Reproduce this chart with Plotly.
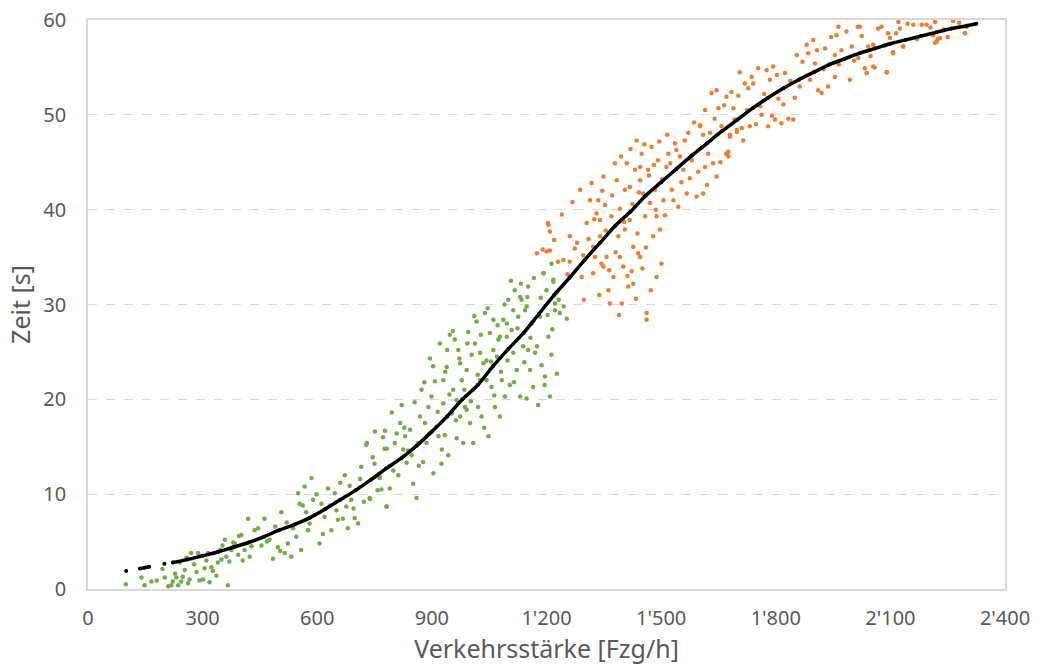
import plotly.graph_objects as go

# ---------------- data ----------------
x_ticks = [0, 300, 600, 900, 1200, 1500, 1800, 2100, 2400]
x_tick_labels = ["0", "300", "600", "900", "1'200", "1'500", "1'800", "2'100", "2'400"]
y_ticks = [0, 10, 20, 30, 40, 50, 60]

green_x = [99, 140, 148, 166, 201, 218, 222, 231, 236, 244, 253, 262, 270, 284, 288, 301, 305, 314,
           318, 323, 336, 345, 349, 358, 362, 366, 375, 384, 393, 401, 410, 419, 423, 436, 454, 462,
           475, 484, 497, 506, 515, 523, 532, 537, 550, 554, 558, 567, 571, 576, 585, 589, 593, 606,
           611, 619, 628, 637, 646, 650, 654, 672, 676, 680, 689, 698, 707, 715, 728, 737, 750, 763,
           768, 781, 776,
           738, 782, 730, 751, 777, 782, 799, 808, 817, 821, 825, 834, 843, 851, 860, 869, 873, 877,
           886, 895, 899, 904, 908, 912, 921, 926, 930, 934, 939, 943, 947, 952, 956, 960, 965, 969,
           974, 978, 982, 987, 991, 995, 1000, 1004, 1008, 1013, 1017, 1021, 1026, 1030, 1035, 1039,
           1043, 1048, 1052, 1056, 1061, 1065, 1070, 1074, 1078, 1083, 1087, 1091, 1096, 1100, 1104,
           1109, 1113, 1117, 1122, 1126, 1131, 1135, 1139, 1144, 1148, 1152, 1157, 1161, 1165, 1170,
           1178, 1183, 1187, 1192, 1196, 1200, 1205, 1209, 1213, 1218, 1222, 1227,
           764, 790, 803, 830, 847, 864, 882, 891, 917, 930, 940, 965, 974, 991, 1008, 1026, 1043,
           1061, 1078, 1096, 1113, 1131, 1148, 1152,
           1192, 1213, 1218, 1227, 1235, 1253, 1222]
green_y = [0.5, 1.2, 0.4, 0.8, 1.2, 0.4, 0.8, 1.2, 0.4, 0.8, 2.0, 0.6, 3.8, 1.8, 3.8, 1.0, 2.2, 3.8,
           0.7, 2.3, 1.4, 4.1, 3.1, 5.2, 3.4, 0.4, 4.1, 4.8, 3.6, 5.7, 4.1, 7.4, 3.4, 6.2, 4.6, 7.4,
           5.2, 3.2, 4.4, 8.1, 3.8, 4.8, 3.4, 6.4, 10.1, 9.0, 4.1, 10.8, 8.1, 6.2, 11.7, 9.4, 7.8, 4.8,
           9.0, 7.6, 10.6, 6.2, 10.1, 8.3, 7.3, 12.0, 8.7, 6.4, 9.4, 7.5, 6.9, 12.9, 15.2, 9.6, 13.2, 11.7,
           10.5, 8.7, 14.8,
           9.5, 8.7, 15.4, 16.6, 16.7, 14.8, 12.5, 16.4, 17.5, 19.4, 14.7, 13.3, 16.8, 11.1, 9.6, 18.2, 21.0, 13.4,
           15.4, 24.3, 20.3, 12.2, 21.9, 17.1, 25.9, 14.7, 19.6, 16.2, 23.4, 14.1, 26.8, 18.5, 21.0, 26.3, 15.9, 25.2,
           18.2, 22.0, 15.4, 19.2, 23.1, 27.1, 17.5, 24.7, 15.4, 25.9, 28.2, 19.2, 24.9, 18.2, 23.8, 29.1,
           22.0, 16.1, 27.0, 21.3, 28.4, 19.2, 24.5, 26.3, 18.2, 22.0, 28.4, 20.3, 26.6, 30.5, 21.5,
           27.3, 24.9, 31.5, 23.1, 28.7, 20.3, 30.5, 25.6, 29.4, 20.1, 31.9, 23.1, 28.0, 21.3, 24.9,
           19.4, 28.7, 23.6, 33.3, 22.4, 31.5, 26.6, 20.3, 24.7, 32.6, 30.1, 22.7,
           11.8, 10.6, 15.4, 16.1, 14.1, 15.4, 17.5, 19.2, 16.1, 22.0, 25.2, 19.9, 23.8, 18.9, 21.0, 22.0, 24.1,
           25.2, 26.6, 28.0, 29.4, 30.8, 29.8, 25.2,
           33.3, 34.3, 32.4, 31.3, 29.1, 28.5, 29.4]

# further green dots read from the denser parts of the cloud, as (x, y) pairs
green_more = [(180, 0.9), (195, 2.1), (210, 0.3), (228, 1.6), (240, 2.8), (248, 1.3), (258, 3.3),
              (266, 1.0), (278, 2.6), (292, 0.9), (310, 3.0), (327, 1.9), (340, 2.8), (352, 4.6),
              (370, 2.9), (380, 4.9), (395, 5.6), (405, 3.0), (428, 4.5), (445, 6.4), (468, 5.0),
              (490, 6.6), (503, 4.0), (520, 7.0), (545, 5.5), (562, 8.8), (580, 6.9), (598, 10.0),
              (615, 5.8), (633, 8.8), (660, 11.2), (667, 7.4), (685, 10.9), (695, 8.5), (712, 11.6),
              (722, 9.2), (745, 13.9), (758, 10.4), (772, 16.0), (790, 13.0), (795, 18.6), (812, 12.0),
              (828, 17.0), (838, 14.6), (855, 19.7), (866, 13.0), (880, 21.8), (893, 16.4), (903, 23.5),
              (915, 18.7), (925, 13.2), (935, 22.9), (946, 20.5), (955, 27.2), (963, 17.8), (972, 24.3),
              (985, 21.0), (993, 25.9), (1002, 19.8), (1011, 28.8), (1020, 22.6), (1028, 26.8),
              (1037, 17.0), (1046, 29.6), (1055, 24.0), (1063, 20.4), (1072, 27.8), (1081, 22.9),
              (1090, 30.0), (1098, 24.1), (1107, 32.5), (1115, 21.8), (1124, 27.5), (1133, 32.2),
              (1142, 23.9), (1150, 30.8), (1158, 26.5), (1167, 32.8), (1175, 25.6), (1185, 30.7),
              (1195, 21.5), (1203, 28.9), (1215, 27.4), (1232, 30.5), (1245, 29.8)]

orange_x = [1175, 1190, 1204, 1230,
            1200, 1209, 1205, 1209, 1244, 1261, 1261, 1274, 1288, 1292, 1296, 1305, 1314, 1318, 1322,
            1327, 1331, 1335, 1340, 1344, 1349, 1353, 1357, 1362, 1366, 1370, 1375, 1379, 1384, 1388,
            1392, 1397, 1401, 1405, 1410, 1414, 1418, 1423, 1427, 1432, 1436, 1440, 1445, 1449, 1453,
            1458, 1462, 1462, 1466, 1471, 1475, 1479, 1484, 1488, 1492, 1497, 1501, 1506, 1514, 1519,
            1528, 1536, 1545, 1549, 1558, 1567, 1571, 1580, 1593, 1602, 1610, 1615, 1628, 1636, 1645,
            1658, 1671, 1680, 1698,
            1418, 1445, 1340, 1392, 1427, 1488, 1349, 1322, 1405, 1445,
            1602, 1610, 1615, 1623, 1632, 1645, 1650, 1671, 1676, 1680, 1684, 1689, 1698, 1706, 1711,
            1719, 1728, 1732, 1741, 1754, 1759, 1763, 1776, 1780, 1785, 1793, 1798, 1807, 1815, 1824,
            1833, 1846, 1855, 1863, 1881, 1885, 1898, 1903, 1911, 1920, 1929, 1937, 1955, 1955, 1959,
            1964, 1972, 1994, 1999, 2016, 2020, 2033, 2038, 2042, 2055, 2055, 2077, 2090, 2094, 2099,
            2107, 2121, 2125, 2134, 2160, 2182, 2195, 2212, 2217, 2221, 2230, 2295, 2300,
            2217, 2224, 2091, 2038, 2059, 2107, 2133, 2295, 2015, 2264, 1671, 1676]
orange_y = [35.4, 35.8, 38.6, 34.5,
            35.6, 35.7, 38.4, 37.7, 34.7, 34.5, 37.2, 35.9, 42.1, 32.9, 35.2, 38.6, 41.0, 42.8, 33.3,
            35.0, 39.6, 41.0, 37.2, 34.3, 43.5, 40.5, 35.0, 31.5, 30.1, 39.3, 32.9, 44.9, 43.1, 37.2,
            40.1, 30.1, 34.0, 42.1, 44.9, 31.9, 38.9, 33.5, 36.1, 44.2, 47.3, 35.4, 43.1, 45.9, 41.7,
            39.3, 29.1, 28.4, 44.2, 40.7, 46.6, 37.2, 42.1, 39.3, 45.2, 37.9, 34.3, 41.0, 44.5, 45.9,
            42.1, 47.0, 40.3, 45.6, 44.2, 41.7, 48.1, 45.2, 41.4, 48.9, 41.7, 44.5, 48.1, 44.9, 43.5,
            48.8, 45.9, 47.7, 48.4,
            42.4, 44.5, 38.9, 35.0, 32.2, 32.9, 34.0, 36.1, 37.9, 35.0,
            48.8, 47.9, 50.5, 45.9, 52.3, 52.6, 50.7, 51.9, 46.1, 47.9, 52.4, 50.7, 48.2, 54.5, 48.6,
            53.3, 52.8, 48.8, 53.3, 54.9, 50.9, 50.0, 54.7, 48.8, 53.7, 55.1, 49.5, 51.7, 49.1, 54.4,
            49.6, 49.5, 56.3, 53.0, 57.4, 56.5, 57.9, 55.4, 52.6, 52.3, 57.0, 53.0, 56.3, 54.0, 58.4,
            59.3, 56.8, 53.7, 57.2, 56.0, 59.3, 54.9, 54.4, 57.2, 55.1, 57.4, 59.3, 54.5, 58.6, 58.1,
            56.5, 59.8, 59.1, 57.2, 59.5, 59.5, 59.5, 58.4, 59.8, 57.7, 58.1, 58.6, 59.3,
            57.6, 58.0, 54.5, 54.4, 55.0, 56.6, 57.2, 58.6, 59.3, 59.9, 45.9, 45.6]

# further orange dots, as (x, y) pairs
orange_more = [(1220, 36.8), (1240, 39.5), (1255, 33.2), (1268, 40.8), (1280, 36.5), (1298, 30.5),
               (1310, 36.9), (1325, 39.0), (1338, 31.0), (1346, 42.0), (1355, 37.8), (1364, 33.6),
               (1372, 41.5), (1381, 35.5), (1390, 28.9), (1395, 45.6), (1403, 38.7), (1412, 33.0),
               (1420, 46.4), (1425, 40.6), (1434, 30.6), (1438, 37.5), (1442, 41.8), (1451, 33.8),
               (1456, 46.9), (1460, 36.0), (1468, 43.6), (1473, 31.5), (1481, 44.7), (1486, 40.0),
               (1495, 47.2), (1503, 43.2), (1510, 39.4), (1516, 47.9), (1524, 44.9), (1532, 41.0),
               (1540, 46.3), (1553, 42.9), (1562, 47.3), (1575, 43.3), (1586, 49.2), (1597, 44.0),
               (1606, 46.5), (1620, 42.6), (1640, 49.6), (1655, 45.0), (1665, 51.0), (1692, 49.5),
               (1702, 52.0), (1715, 47.3), (1725, 50.5), (1737, 54.0), (1748, 49.0), (1770, 52.2),
               (1790, 49.9), (1803, 54.2), (1820, 51.1), (1838, 53.6), (1850, 51.8), (1870, 55.6),
               (1890, 53.7), (1908, 56.8), (1925, 54.8), (1945, 58.2), (1965, 55.3), (1985, 58.8),
               (2005, 55.7), (2025, 58.3), (2048, 56.2), (2068, 59.1), (2085, 57.3), (2115, 58.6),
               (2145, 59.6), (2170, 58.0), (2205, 59.2), (2240, 59.0), (2250, 58.2), (2280, 59.7)]

# fitted curve (black dots); None marks the small gaps seen at the low end
curve_x = [100, None, 136, 148, 160, None, 200, None, 222, 260, 300, 340, 380, 420, 460, 500, 540,
           580, 620, 660, 700, 740, 780, 820, 860, 900, 940, 980, 1020, 1060, 1100, 1140, 1180, 1220,
           1260, 1300, 1340, 1380, 1420, 1460, 1500, 1540, 1580, 1620, 1660, 1700, 1740, 1780, 1820,
           1860, 1900, 1940, 1980, 2020, 2060, 2100, 2140, 2180, 2220, 2260, 2300, 2325]
curve_y = [1.9, None, 2.15, 2.25, 2.35, None, 2.65, None, 2.8, 3.1, 3.5, 3.9, 4.4, 4.9, 5.5, 6.2, 6.8,
           7.5, 8.4, 9.4, 10.4, 11.5, 12.7, 13.8, 15.1, 16.6, 18.2, 20.0, 21.5, 23.5, 25.3, 27.0, 29.0, 31.0,
           32.8, 34.7, 36.5, 38.3, 39.8, 41.5, 42.9, 44.3, 45.7, 47.0, 48.3, 49.5, 50.7, 51.8, 52.8,
           53.7, 54.5, 55.3, 55.9, 56.5, 57.0, 57.5, 57.9, 58.3, 58.7, 59.1, 59.4, 59.6]

# ---------------- figure ----------------
GREEN = "#70AD47"
ORANGE = "#ED7D31"
GRID = "#D9D9D9"
TEXT = "#595959"
FONT = "Noto Sans"

gx = green_x + [p[0] for p in green_more]
gy = green_y + [p[1] for p in green_more]
ox = orange_x + [p[0] for p in orange_more]
oy = orange_y + [p[1] for p in orange_more]

fig = go.Figure()
fig.add_trace(go.Scatter(x=gx, y=gy, mode="markers",
                         marker=dict(color=GREEN, size=4.5), showlegend=False))
fig.add_trace(go.Scatter(x=ox, y=oy, mode="markers",
                         marker=dict(color=ORANGE, size=4.5), showlegend=False))
fig.add_trace(go.Scatter(x=curve_x, y=curve_y, mode="lines+markers", connectgaps=False,
                         line=dict(color="black", width=3.5, shape="spline"),
                         marker=dict(color="black", size=4), showlegend=False))

fig.update_layout(
    width=1040, height=670,
    margin=dict(l=88, r=35, t=20, b=81),
    paper_bgcolor="white", plot_bgcolor="white",
    font=dict(family=FONT, color=TEXT),
)
fig.update_xaxes(
    range=[0, 2400], tickvals=x_ticks, ticktext=x_tick_labels,
    showgrid=False, zeroline=False, automargin=False,
    showline=True, linecolor=GRID, linewidth=1.5, mirror=True,
    ticks="", ticklabelstandoff=10,
    tickfont=dict(size=20, color=TEXT, family=FONT),
    title=dict(text="Verkehrsstärke [Fzg/h]", font=dict(size=25, color=TEXT, family=FONT), standoff=10),
)
fig.update_yaxes(
    range=[0, 60], tickvals=y_ticks,
    showgrid=True, gridcolor=GRID, griddash="dash", gridwidth=1,
    zeroline=False, automargin=False,
    showline=True, linecolor=GRID, linewidth=1.5, mirror=True,
    ticks="", ticklabelstandoff=16,
    tickfont=dict(size=20, color=TEXT, family=FONT),
    title=dict(text="Zeit [s]", font=dict(size=25, color=TEXT, family=FONT), standoff=6),
)

fig.write_html("out.html")
